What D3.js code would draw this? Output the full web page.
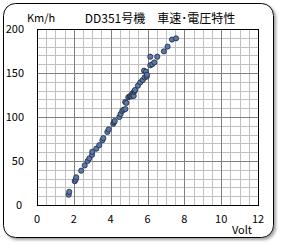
<!DOCTYPE html>
<html>
<head>
<meta charset="utf-8">
<script src="https://cdn.jsdelivr.net/npm/d3@7"></script>
<style>
  body { margin: 0; background: #fff; }
  text { font-family: "Noto Sans CJK JP", "DejaVu Sans", sans-serif; fill: #000; }
</style>
</head>
<body>
<div id="chart"></div>
<script>
// volt / speed pairs
const volts = [1.72, 1.75, 2.05, 2.1, 2.13, 2.4, 2.59, 2.75, 2.84, 2.99, 3.0, 3.22, 3.38, 3.55, 3.6,
  3.82, 3.89, 4.14, 4.18, 4.22, 4.47, 4.54, 4.63, 4.7, 4.8, 4.79, 4.85, 4.96, 5.03, 5.08, 5.14,
  5.17, 5.19, 5.25, 5.27, 5.3, 5.32, 5.48, 5.61, 5.74, 5.81, 5.85, 5.92, 5.96, 5.97, 6.15, 6.26,
  6.37, 6.15, 6.53, 6.89, 7.09, 7.33, 7.55];
const speeds = [11.7, 15, 27, 29, 31.5, 39, 45, 50, 53, 57, 60.5, 64, 68, 73.5, 76,
  83, 86, 92.4, 94, 95.5, 100, 103.4, 107, 108.3, 109, 117, 116, 122.4, 123.5, 124, 123.5,
  126.5, 125, 123.9, 128.8, 129.5, 130.7, 135.6, 139.4, 142, 152.6, 145, 151.5, 146, 148, 158.7, 160,
  162, 168.5, 168.5, 174.6, 180, 188, 189.4];
const xTicks = [0, 2, 4, 6, 8, 10, 12];
const yTicks = [0, 50, 100, 150, 200];

const W = 284, H = 248;
const svg = d3.select('#chart').append('svg').attr('width', W).attr('height', H);

const defs = svg.append('defs');
const f = defs.append('filter').attr('id', 'sh').attr('x', '-10%').attr('y', '-10%').attr('width', '120%').attr('height', '120%');
f.append('feDropShadow').attr('dx', 2).attr('dy', 2).attr('stdDeviation', 1.5).attr('flood-color', '#888').attr('flood-opacity', 0.8);

svg.append('rect')
  .attr('x', 3.5).attr('y', 3.5).attr('width', 270).attr('height', 234)
  .attr('rx', 12).attr('fill', '#fff').attr('stroke', '#000').attr('filter', 'url(#sh)');

const x = d3.scaleLinear().domain([0, 12]).range([37, 258]);
const y = d3.scaleLinear().domain([0, 200]).range([205, 29]);

const g = svg.append('g');
// minor grid
g.selectAll('line.vx').data(d3.range(0.5, 12, 0.5).filter(v => v % 2 !== 0)).join('line')
  .attr('x1', d => Math.round(x(d)) + 0.5).attr('x2', d => Math.round(x(d)) + 0.5)
  .attr('y1', y(200)).attr('y2', y(0)).attr('stroke', '#c0c0c0');
g.selectAll('line.hy').data(d3.range(10, 200, 10).filter(v => v % 50 !== 0)).join('line')
  .attr('y1', d => Math.round(y(d)) + 0.5).attr('y2', d => Math.round(y(d)) + 0.5)
  .attr('x1', x(0)).attr('x2', x(12)).attr('stroke', '#c0c0c0');
// major grid
g.selectAll('line.mx').data(xTicks.slice(1, -1)).join('line')
  .attr('x1', d => Math.round(x(d)) + 0.5).attr('x2', d => Math.round(x(d)) + 0.5)
  .attr('y1', y(200)).attr('y2', y(0)).attr('stroke', '#808080');
g.selectAll('line.my').data(yTicks.slice(1, -1)).join('line')
  .attr('y1', d => Math.round(y(d)) + 0.5).attr('y2', d => Math.round(y(d)) + 0.5)
  .attr('x1', x(0)).attr('x2', x(12)).attr('stroke', '#808080');

svg.append('rect')
  .attr('x', x(0) + 0.5).attr('y', y(200) + 0.5)
  .attr('width', x(12) - x(0)).attr('height', y(0) - y(200))
  .attr('fill', 'none').attr('stroke', '#000');

// tick labels
svg.selectAll('text.xt').data(xTicks).join('text')
  .attr('x', d => x(d)).attr('y', 223).attr('text-anchor', 'middle')
  .attr('font-size', 11).text(d => d);
svg.selectAll('text.yt').data(yTicks).join('text')
  .attr('x', d => d === 0 ? 22 : 24).attr('y', d => y(d) + 4).attr('text-anchor', 'end')
  .attr('font-size', 11).text(d => d);

svg.append('text').attr('x', 27).attr('y', 22).attr('font-size', 11).text('Km/h');
svg.append('text').attr('x', 252).attr('y', 234).attr('text-anchor', 'end').attr('font-size', 11).text('Volt');
svg.append('text').attr('x', 160).attr('y', 23).attr('text-anchor', 'middle').attr('font-size', 12).text('DD351号機　車速･電圧特性');

// points
svg.append('g').selectAll('circle').data(volts.map((v, i) => [v, speeds[i]])).join('circle')
  .attr('cx', d => x(d[0])).attr('cy', d => y(d[1])).attr('r', 2.6)
  .attr('fill', '#5a78a8').attr('stroke', '#1e2a40').attr('stroke-width', 0.8);
</script>
</body>
</html>
